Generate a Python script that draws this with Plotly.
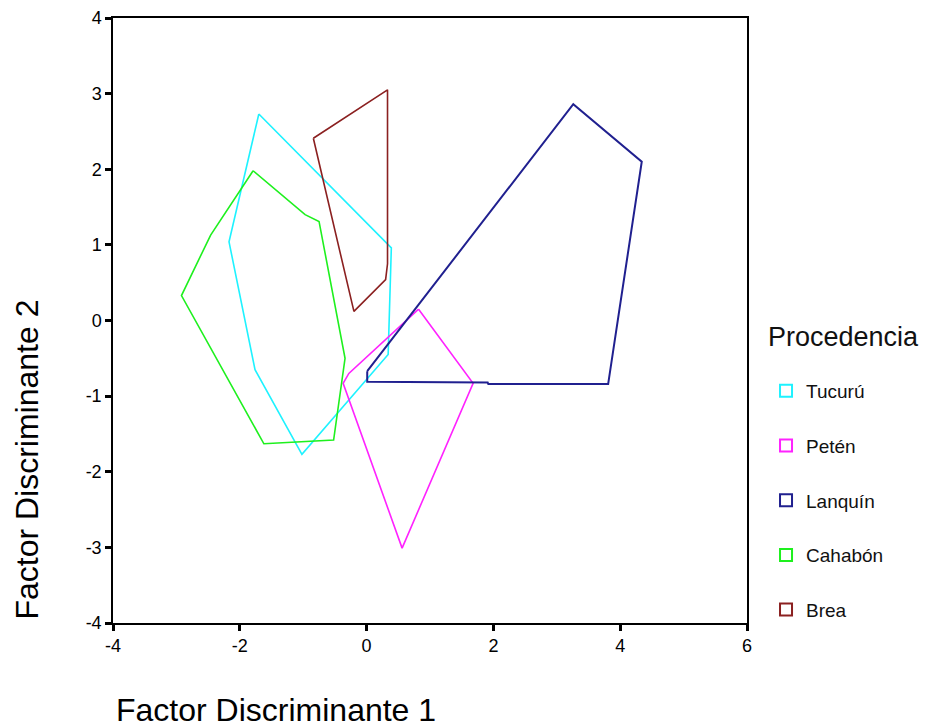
import plotly.graph_objects as go

# Convex hull vertices per group (Factor Discriminante 1, Factor Discriminante 2)
tucuru_x = [-1.70, 0.39, 0.34, -1.02, -1.76, -2.17, -1.70]
tucuru_y = [2.73, 0.96, -0.45, -1.77, -0.65, 1.04, 2.73]

peten_x = [0.82, 1.68, 0.56, -0.37, -0.28, 0.22, 0.82]
peten_y = [0.15, -0.83, -3.01, -0.83, -0.70, -0.31, 0.15]

lanquin_x = [0.01, 0.01, 1.91, 1.92, 3.81, 4.34, 3.26, 0.01]
lanquin_y = [-0.67, -0.81, -0.82, -0.84, -0.84, 2.10, 2.86, -0.67]

cahabon_x = [-1.79, -0.97, -0.75, -0.34, -0.52, -1.62, -2.92, -2.46, -1.79]
cahabon_y = [1.98, 1.40, 1.31, -0.50, -1.58, -1.63, 0.33, 1.13, 1.98]

brea_x = [-0.84, 0.33, 0.33, 0.30, -0.20, -0.84]
brea_y = [2.41, 3.05, 0.75, 0.54, 0.12, 2.41]

groups = ["Tucurú", "Petén", "Lanquín", "Cahabón", "Brea"]
colors = ["#1EF2FF", "#FF22FF", "#20208F", "#1EF01E", "#8B2020"]
xs = [tucuru_x, peten_x, lanquin_x, cahabon_x, brea_x]
ys = [tucuru_y, peten_y, lanquin_y, cahabon_y, brea_y]

x_ticks = [-4, -2, 0, 2, 4, 6]
y_ticks = [-4, -3, -2, -1, 0, 1, 2, 3, 4]

fig = go.Figure()
for name, col, x, y in zip(groups, colors, xs, ys):
    fig.add_trace(go.Scatter(
        x=x, y=y, mode="lines", name=name, legendgroup=name,
        line=dict(color=col, width=2 if name == "Lanquín" else 1.6),
        showlegend=False, hoverinfo="skip"))
    fig.add_trace(go.Scatter(
        x=[None], y=[None], mode="markers", name=name, legendgroup=name,
        marker=dict(symbol="square-open", size=8, color=col, line=dict(width=2, color=col)),
        showlegend=True))

font_family = "Liberation Sans, Arial, sans-serif"

# plot area in page pixels: x 113..747, y ~18..623 (page body has 8px margin)
fig.update_layout(
    width=919, height=719,
    margin=dict(l=105, r=180, t=10, b=104, autoexpand=False),
    paper_bgcolor="white", plot_bgcolor="white",
    font=dict(family=font_family, color="black"),
    showlegend=True,
    legend=dict(
        font=dict(size=19, color="#111"),
        x=1.03, xanchor="left", y=0.415, yanchor="top",
        tracegroupgap=27, itemsizing="constant",
        bgcolor="rgba(0,0,0,0)",
    ),
    xaxis=dict(
        range=[-4, 6], tickvals=x_ticks, ticktext=[str(v) for v in x_ticks],
        showgrid=False, zeroline=False, showline=True, linecolor="black", linewidth=1.5,
        mirror=True, ticks="outside", ticklen=6, tickwidth=3, tickcolor="black",
        tickfont=dict(size=18, color="black"), ticklabeloverflow="allow",
    ),
    yaxis=dict(
        range=[-4, 4], tickvals=y_ticks, ticktext=[str(v) for v in y_ticks],
        showgrid=False, zeroline=False, showline=True, linecolor="black", linewidth=1.5,
        mirror=True, ticks="outside", ticklen=6, tickwidth=3, tickcolor="black",
        tickfont=dict(size=18, color="black"), ticklabeloverflow="allow",
    ),
    annotations=[
        dict(text="Factor Discriminante 1", xref="paper", yref="paper",
             x=0.001, y=-0.143, xanchor="left", yanchor="middle",
             showarrow=False, font=dict(size=32, color="black", family=font_family)),
        dict(text="Factor Discriminante 2", xref="paper", yref="paper",
             x=-0.135, y=0.003, xanchor="center", yanchor="bottom", textangle=-90,
             showarrow=False, font=dict(size=32, color="black", family=font_family)),
        dict(text="Procedencia", xref="paper", yref="paper",
             x=1.03, y=0.472, xanchor="left", yanchor="middle",
             showarrow=False, font=dict(size=27, color="#111", family=font_family)),
    ],
)

fig.write_html("out.html")
